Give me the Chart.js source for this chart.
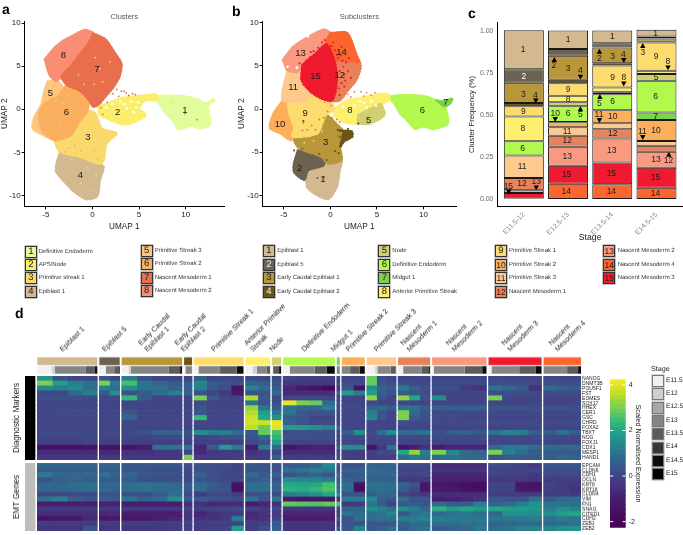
<!DOCTYPE html>
<html><head><meta charset="utf-8">
<script src="https://cdn.jsdelivr.net/npm/chart.js@4"></script>
<style>
html,body{margin:0;padding:0;background:#fff;font-family:"Liberation Sans",Arial,sans-serif;text-rendering:geometricPrecision}
#page{position:relative;width:683px;height:535px;overflow:hidden}
canvas{position:absolute}
.t{position:absolute;white-space:nowrap;line-height:1;color:#222}
.sw{position:absolute;width:10px;height:10px;border:1px solid #333;box-shadow:0 0 0 .6px #999;font-size:9.5px;line-height:10px;text-align:center;color:#222}
</style></head><body><div id="page"></div>
<script>
/* ---------- palettes ---------- */
const clusterColors={1:'#E2FC9C',2:'#FBEE6B',3:'#FBD86C',4:'#D2B990',5:'#FDC67F',6:'#FAAF5F',7:'#E96F4C',8:'#F98E74'};
const subColors={1:'#D2B990',2:'#6B6250',3:'#B8963A',4:'#6B5517',5:'#D1CF72',6:'#B2F94E',7:'#79D44A',8:'#FEF06E',9:'#FEDB6E',10:'#FCAE5A',11:'#FEC98C',12:'#E8825A',13:'#F99A80',14:'#FA6530',15:'#F01A30'};
const stageColors=['#F0F0F0','#CFCFCF','#A8A8A8','#858585','#5C5C5C','#363636','#0C0C0C','#000000'];
const stageNames=['E11.5','E12','E12.5','E13','E13.5','E14','E14.5','E15'];

/* ---------- panel a: cluster outlines in UMAP coordinates ---------- */
const a8=[[-5.1,5.8],[-4.1,7.1],[-3.2,7.9],[-2,8.6],[-.8,9.2],[.1,8.8],[-.4,7.7],[-1.4,6.3],[-2.4,4.9],[-3.3,3.8],[-3.9,3.3],[-4.6,4]];
const a7=[[.1,8.8],[1.4,8.1],[2.3,6.7],[3.1,5.3],[2.9,3.8],[2.2,2.5],[1.4,1.5],[.7,.6],[.1,.3],[-.4,1.1],[-1.4,2.2],[-2.7,2.8],[-3.3,3.8],[-2.4,4.9],[-1.4,6.3],[-.4,7.7]];
const a5=[[-4.8,3.2],[-3.9,3.3],[-3.2,2.6],[-3.7,1.5],[-5.1,.7],[-5.7,-.5],[-5.4,-2.4],[-4,-3.6],[-4.9,-3.2],[-6.4,-2.2],[-6.2,-.9],[-5.5,.5],[-5.1,2.3]];
const a6=[[-5.1,.7],[-3.7,1.5],[-2.7,2.8],[-1.4,2.2],[-.4,1.1],[-.6,-.3],[-1.4,-1.4],[-2.3,-3],[-3.2,-3.4],[-4,-3.6],[-5.4,-2.4],[-5.7,-.5]];
const a3=[[-.4,-.1],[.3,-.5],[1,-2.2],[2.1,-2.6],[2.6,-2.8],[1.5,-4],[1.2,-5.9],[.7,-6.3],[-1.4,-5.5],[-3.5,-4.9],[-4,-3.6],[-3.2,-3.4],[-2.3,-3],[-1.4,-1.4],[-.6,-.3]];
const a4=[[-3.5,-5.1],[-1.4,-5.5],[.7,-6.3],[1.2,-6.7],[.8,-8.2],[.5,-10.1],[-.7,-10.4],[-2,-9.5],[-3,-8.4],[-3.9,-7.2],[-3.8,-6.1]];
const a2=[[.7,.3],[2.1,.9],[3.1,1.3],[5.5,1.6],[6.9,1.7],[6.9,1.1],[5.6,1],[5,.1],[5.7,-.7],[4.2,-1.6],[3.1,-1.7],[1.4,-1],[.7,-.5]];
const a1=[[6.4,1.4],[7.7,1.6],[9.8,1.5],[11.2,1.2],[12.1,.7],[13,1.2],[13.05,1],[12.4,.4],[12.6,-1.8],[11.5,-2.2],[10.7,-1.9],[9.2,-2.3],[8.7,-1.4],[7.9,-.5],[7.1,.7]];
const aLabels=[['8',-3.1,6.2],['7',.5,4.6],['5',-4.5,1.8],['6',-2.8,-.4],['2',2.7,-.3],['1',9.9,-.1],['3',-.5,-3.3],['4',-1.3,-7.7]];
/* stray cells */
const aStray7=[[2.6,2.3],[3.1,2.1],[3.6,1.9],[4.3,1.8],[3.9,1.6],[2.2,1.8],[2.8,1.5],[1.6,.8],[1.1,-.6],[3.4,2.1],[4.6,1.7],[.9,.2],[9.9,-.5],[11.2,-1.2]];
const aStray5=[[.2,2.9],[1.1,3.2],[-.9,2.9],[.8,4.7],[1.9,5.5],[-1.5,4],[.3,6],[-4.5,-.5],[-3.9,.9],[-4.8,-1.4],[-3.5,-1.9],[-3.2,.7],[-5,.2],[-2.6,1.6],[-4.2,-2.6]];
const aStray6=[[-4.7,2.3],[-5.5,-1.5],[-5.9,-1.9],[-5.2,-.9],[-4.1,2.7],[-4.4,1.2]];
const aStray3=[[-.5,-6.8],[-1.2,-8.6],[-.2,-9.4],[.4,-7.5],[-2.2,-5.8],[-1.8,-5.2],[0,-6.2],[8.6,.8]];
const aStray4=[[-2.5,-4.5],[-1.9,-4.2],[-1.2,-4.8],[.6,-5.8],[-2.9,-4.9],[.2,-4.7]];
const aHoles=[[3.4,.6],[4.2,.9],[4.7,.2],[3.7,.1],[4.4,-.3],[2.1,.6],[1.5,.2],[3,.9],[4.9,.8]];

/* ---------- panel b: subcluster outlines in UMAP coordinates ---------- */
const b13=[[-5.1,5.7],[-4,7.2],[-2.3,8.4],[-.7,9.2],[0,8.8],[-.2,7.6],[-1.6,6.4],[-3,5.1],[-3.5,4.3],[-4.6,4.5]];
const b14=[[0,8.8],[1.8,8.8],[2.8,6.3],[3.2,5.1],[2.3,4.9],[.5,5.3],[-.2,6.4],[-.5,7.6]];
const b12=[[.5,5.3],[3.2,5.1],[2.8,3.4],[1.9,2.2],[1,1],[.2,1],[.5,3.3]];
const b15=[[-3,5.1],[-1.6,6.4],[-.4,7.5],[.5,5.3],[.7,3.3],[.2,1],[-.9,1.2],[-2.1,2],[-3.1,3.4]];
const b11=[[-4.6,4.5],[-3.5,4.3],[-3.1,3.4],[-2.1,2],[-2.6,1],[-5.1,1],[-5.1,2.2]];
const b10=[[-5.1,1],[-4.6,1],[-4.4,-.5],[-3.9,-2.2],[-4.2,-3.6],[-5.4,-2.8],[-6.5,-2.2],[-6.1,-.5]];
const b9=[[-4.6,1],[-2.6,1],[-2.1,2],[-.9,1.2],[.2,.6],[.35,-.1],[-.5,-.7],[-1.4,-2.8],[-4.1,-3.2],[-3.9,-2.2],[-4.4,-.5]];
const b3=[[-4.1,-3.2],[-1.4,-2.8],[-.5,-.7],[.9,-2],[1.4,-2.6],[1.05,-4.4],[1.2,-5.9],[-.2,-6.3],[-1,-5.5],[-2.6,-4.9],[-3.5,-4.4]];
const b4=[[1,-2.5],[2.3,-2.6],[2.35,-3.2],[1.4,-3.8],[1.05,-4.4],[1.4,-2.6]];
const b2=[[-3.5,-4.8],[-2.6,-4.9],[-1,-5.5],[-.7,-6.5],[-2.4,-7.1],[-2.8,-8.2],[-3.9,-7.3],[-3.9,-6.3]];
const b1=[[-.7,-6.3],[1.2,-5.9],[1,-7.1],[.7,-9],[-.2,-10.4],[-1.4,-10],[-2.5,-9],[-2.4,-7.1]];
const b8=[[.35,0],[1.9,1],[3.3,1.3],[5,1.7],[6.3,1.7],[6.3,1.1],[5.4,.5],[3.3,-.5],[3,-1.6],[1.8,-1.6],[.5,-.9]];
const b5=[[3,-.7],[4.8,.3],[5.4,.6],[5.8,-.7],[4.2,-1.7],[3,-1.6]];
const b6=[[6.2,1.4],[7.5,1.6],[10,1.5],[11.4,1],[12.3,.3],[12.6,-1.7],[11,-2.3],[9.99,-2],[9.1,-2.3],[8.4,-1.5],[7.5,-.5],[6.9,.6]];
const b7=[[11.4,1],[12.1,.9],[13.1,1.2],[12.9,.7],[12.3,.3]];
const bLabels=[['13',-3.2,6.4],['14',1.2,6.6],['15',-1.6,3.8],['12',1,3.9],['11',-4,2.5],['9',-2.7,-.5],['10',-5.4,-1.8],['8',2.1,-.2],['5',4.1,-1.3],['6',9.9,-.1],['7',12.4,.8],['3',-.5,-3.9],['2',-3.3,-6.9],['1',-.8,-8.1]];
const bStray15=[[1.1,6.2],[.5,6.8],[.1,7.3],[1.7,5.4],[1.9,4.4],[1.5,2.6],[-.6,8],[-1.3,7.1],[-2.2,6],[.8,5.9],[1.4,4.9],[2.2,3.6],[.9,2.4],[1,1.6],[-2.6,5.6],[.3,7.7],[1.2,7.2],[1.6,3.3],[-1.8,6.7],[2,5.9],[.7,6.3],[1.3,5.6],[1,4.4],[1.2,3],[.6,2],[-.9,7.7],[-2.1,6.6],[-3.3,5.3],[-2.9,2.8],[.4,4.6],[1.5,4],[.2,6.2]];
const bStray12=[[1.9,1.7],[2.6,2],[3.3,2],[3.9,1.9],[4.4,1.6],[4.8,1.9],[2.2,1.4],[3.6,1.5],[-.6,.8],[.1,.4]];
const bStray2=[[-3.9,-4.8],[-3.5,-5.5],[-1.5,-5.8],[-1,-6.3],[-2.2,-6],[-2.8,-5.3],[-.4,-5.9],[-1.8,-5.4],[-1.4,-8],[-.7,-7.9],[-3,-4.6],[-1.2,-5.2]];
const bStray3=[[-1.2,-1.2],[-.8,-1.9],[-2.5,-2.4],[-3,-2.5],[-2.9,-1.6],[-1.6,-2.4],[.2,-1],[-.3,-.3],[1,-1.5],[.7,-1.2],[-2,-1.9],[-.7,-1]];
const bStray4=[[1,-3.2],[1.3,-4],[.8,-2.4],[.5,-4.9],[1.9,-2.3],[.9,-5.1],[-2.9,-1.4],[3,-1.7]];
const bStray9=[[-1.8,-3.7],[-2.8,-3.9],[-.9,-2.6]];
const bStray13=[[-3.9,4.1],[-3.3,3.9],[-3.4,2.9],[-3.8,3.4]];
const bHoles=[[3.6,.7],[4.4,.9],[4.9,.4],[2.6,.4],[3.9,.2],[-3.6,4.8],[-4.6,4.9],[-2.4,8.4],[3.2,.9],[1.4,.3]];

/* ---------- panel c: stacked frequencies ---------- */
const stageTicks=['E11.5-12','E12.5-13','E13.5-14','E14.5-15'];
const freq1=[.232,.111,.075,.040],freq2=[.081,.040,.026,.012],freq3=[.119,.143,.093,.020],freq4=[.020,.020,.014,.004];
const freq9=[.061,.075,.131,.168],freq8=[.147,.038,.028,.020],freq5=[0,.024,.012,.040],freq6=[.085,.093,.095,.188];
const freq7=[0,.002,0,.044],freq10=[0,.030,.077,.125],freq11=[.133,.050,.036,.028],freq12=[.073,.065,.055,.036];
const freq13=[.016,.113,.143,.095],freq15=[.034,.107,.129,.119],freq14=[.002,.091,.087,.067];
const cSeries=[[14,freq14],[15,freq15],[13,freq13],[12,freq12],[11,freq11],[10,freq10],[7,freq7],[6,freq6],[5,freq5],[8,freq8],[9,freq9],[4,freq4],[3,freq3],[2,freq2],[1,freq1]];
const cLabels=[['1',.985,.885],['2',1,.727,'#fff'],['3',.99,.62],['4',1.26,.616],['9',.99,.521],['8',.98,.418],['6',.97,.301],['11',.96,.19],['12',.96,.089],['13',1.28,.101],['15',.65,.073],
['1',2,.945],['2',1.68,.79],['3',2,.776],['4',2.28,.762],['9',2,.651],['8',2,.588],['10',1.71,.509],['6',2,.507],['5',2.28,.499],['11',1.98,.402],['12',1.98,.345],['13',1.98,.253],['15',1.97,.143],['14',1.96,.042],
['1',3,.962],['2',2.71,.836],['3',3.01,.848],['4',3.25,.859],['9',3.01,.723],['8',3.26,.723],['5',2.71,.568],['6',3.01,.578],['11',2.7,.503],['10',3.01,.487],['12',3.01,.386],['13',2.99,.287],['15',2.98,.152],['14',2.98,.042],
['1',3.98,.98],['3',3.69,.871],['9',3.99,.848],['8',4.26,.816],['5',3.99,.723],['6',3.98,.61],['7',3.98,.491],['11',3.68,.402],['10',3.99,.404],['12',4.27,.226],['13',3.99,.234],['15',3.98,.127],['14',3.98,.034]];
const cUp=[[1.69,.828],[2.28,.535],[2.71,.877],[2.72,.608],[3.69,.911],[4.28,.265]];
const cDown=[[1.27,.584],[1.28,.067],[.66,.042],[2.28,.725],[1.71,.473],[3.26,.824],[3.26,.685],[2.71,.467],[4.26,.78],[3.69,.366]];

/* ---------- panel d: heatmap ---------- */
const clusterNames=[['Epiblast 1'],['Epiblast 5'],['Early Caudal','Epiblast 1'],['Early Caudal','Epiblast 2'],['Primitive Streak 1'],['Anterior Primitive','Streak'],['Node'],['Definitive Endoderm'],['Midgut 1'],['Primitive Streak 2'],['Primitive Streak 3'],['Nascent','Mesoderm 1'],['Nascent','Mesoderm 2'],['Nascent','Mesoderm 3'],['Nascent','Mesoderm 4']];
const clusterSub=[1,2,3,4,9,8,5,6,7,10,11,12,13,15,14];
const binsPerCluster=[4,2,4,1,4,2,1,4,1,2,3,3,4,4,3];
/* cells per stage within each cluster: [stage index, cells] */
const stageRuns=[[[0,14.3],[1,3.3],[3,31],[4,9],[6,2.4]],[[0,6.7],[3,9],[4,4],[6,.7]],[[0,6.7],[1,2.3],[3,37.7],[4,11.7],[6,2]],[[0,1.3],[3,6],[4,.7]],[[0,4.3],[3,21.7],[4,16.7],[6,6.7]],[[0,7],[1,4.3],[3,10],[4,3.3]],[[0,1],[4,6],[6,2]],[[0,6.7],[3,25],[4,11.7],[6,8.3]],[[3,3]],[[3,8.3],[4,9.7],[6,5]],[[0,8.3],[1,2.3],[3,13.3],[4,5],[6,.4]],[[0,5],[3,18.7],[4,7.3],[6,1]],[[0,1.7],[3,30.7],[4,17.7],[6,4.3]],[[0,3],[3,27.7],[4,16.7],[6,5.7]],[[3,23.5],[4,11],[6,3]]];
const diagGenes=['NANOG','DNMT3B','POU5F1','FST','EOMES','SOX17','HHEX','CER1','GSC','CHRD','FOXA2','TBXT','NOG','FOXJ1','CDX1','MESP1','HAND1'];
const emtGenes=['EPCAM','CLDN6','CDH1','OCLN','KRT8','KRT18','CLDN4','VIM','FN1','SNAI1','CITED1','CDH2','ZEB1','ZEB2'];
const NANOG=[1.6,.3,0,0, .4,0, 1.2,.2,0,0, 0, .5,0,0,0, .1,0, 0, 0,-.1,-.1,-.1, 0, 0,0, 2.8,.2,0, 0,0,0, 0,0,0,0, .1,0,0,0, .1,0,0];
const DNMT3B=[3,1.8,1.2,.9, 3,1.2, 2.5,1,.7,.5, .5, 1.3,.5,.3,.2, .6,.5, .3, -.3,-.3,-.3,-.3, 0, .2,.1, 2.8,.4,.2, .2,.1,.1, .1,.1,.1,.1, .2,.2,.2,.1, .2,.2,.2];
const POU5F1=[1.4,1.2,1.4,.9, 1.2,.9, 1.5,1,.9,.6, .5, 1.2,.4,.2,-1.5, 1.3,.8, .5, -.8,-1.2,-1.5,-1.8, -.3, .4,-1.5, 1.5,.6,.5, 1.1,.6,.3, .3,.2,-.2,-.5, 1,.7,.5,-.5, .8,.6,.5];
const FST=[.1,.1,.7,1.2, .5,1.5, .3,.5,.8,1.2, .6, .3,0,-.3,-1.2, .3,.3, .8, -.6,-.6,-.6,-.6, .5, 1.8,1.2, 1.8,.5,.3, .5,.4,.2, 0,0,0,0, .2,.2,.2,.1, .2,.2,.2];
const EOMES=[.2,.2,.2,.1, .1,.1, 2.3,.5,0,0, 0, 3,.5,0,0, 3.5,.5, .1, 0,0,0,0, 0, 0,0, 3.2,.3,0, 3.2,2,.3, 1.5,0,0,0, 3,.1,0,0, 0,0,0];
const SOX17=[0,0,0,0, 0,0, 0,0,0,0, 0, .1,0,0,0, 1,.3, .2, 4,3,2.8,.8, .2, 0,0, 0,0,0, .1,0,0, 0,0,0,0, 0,0,0,0, 0,0,0];
const HHEX=[.1,.1,.1,.1, 0,0, .1,0,0,0, 0, .3,0,0,0, 3.2,1, .5, 1,.7,.7,1.2, .1, .1,.1, .6,.8,.5, 1,.9,.5, .6,.6,.6,.6, .3,.3,.3,.2, .3,.3,.2];
const CER1=[0,.1,.1,.1, 0,0, .4,0,0,0, 0, .4,0,0,0, 3.5,1.8, 1, 1,.4,.3,.3, 0, 0,0, 1.2,.3,0, 3,.8,.3, .1,.1,.1,.1, .1,.1,.1,.1, .1,.1,.1];
const GSC=[0,0,.1,.1, 0,0, .6,0,0,0, 0, 2.3,0,0,0, 3.7,2, 1.5, .5,.3,0,0, 0, 0,0, 1.3,.3,0, 3,.5,.2, .1,.1,0,0, 0,0,0,0, 0,0,0];
const CHRD=[0,0,0,0, 0,0, 0,0,0,0, 0, .1,0,0,0, 3.8,3.7, 4, .6,.3,.1,.1, 0, 0,0, 0,0,0, .2,.1,.1, .1,.1,.1,.1, .1,.1,.1,.1, .1,.1,.1];
const FOXA2=[0,0,0,0, 0,0, 0,0,0,0, 0, 0,0,0,0, 3.6,2.8, 3.9, 1.8,1.7,1.5,1.3, .8, 0,0, 0,0,0, 0,0,0, 0,0,0,0, 0,0,0,0, 0,0,0];
const TBXT=[.1,.1,.1,.1, .1,.1, .1,.3,.6,.6, .3, 1.5,1.2,1.2,.8, .5,2.8, 2.5, .2,.2,.2,.2, 0, .5,1.5, .1,.9,1.5, .8,.8,1, .2,.5,.6,.4, 1,1.3,1.2,.5, .5,.9,.5];
const NOG=[0,0,0,.1, 0,0, 0,0,.1,.1, .1, 0,.1,.2,.2, .3,.8, 2.2, .3,.3,.2,.2, 0, .1,.1, 0,.1,.1, .1,.1,.1, .1,.1,.1,.1, .1,.1,.1,.1, .1,.1,.1];
const FOXJ1=[-.1,-.1,-.1,0, -.1,-.1, -.1,-.1,-.1,-.1, 0, -.1,-.1,-.1,-.1, .1,.3, 1.8, 0,0,0,0, 0, 0,0, 0,0,0, 0,0,0, 0,0,0,0, 0,0,0,0, 0,0,0];
const CDX1=[-1.5,-1.5,-1.5,-1.4, -1.4,-1.4, -1.3,-1,1,1, 1, -.8,.5,1.8,1.2, -1,1.2, .8, -1.3,-1,-.9,-.9, .5, 1.5,1.5, -1.4,-.3,1, -1.3,-1,-.5, -1,-.8,-.8,-.8, .8,1.1,1.1,.8, .8,.8,.8];
const MESP1=[-.6,-.6,-.6,-.6, -.7,-.7, -.5,-.5,-.4,-.3, 0, -.6,-.3,-.2,-.2, -.5,-.2, 0, -.6,-.6,-.6,-.6, 0, -.1,-.2, -.1,.1,.1, 2,3.2,1.2, 3,1.4,.8,.6, 3,1.2,.8,.5, .5,.5,.5];
const HAND1=[-.3,-.3,-.3,-.3, -.3,-.3, -.3,-.3,-.3,-.3, 3, -.2,-.2,-.2,-.1, -.2,-.2, .5, -.2,-.2,-.2,-.2, .2, -.1,-.1, -.1,-.1,-.1, .8,1.2,1, .8,1,.8,.8, .3,.5,.5,.4, .5,.7,.6];
const EPCAM=[.7,.7,.7,.7, .6,.6, .4,.4,.4,.4, .2, .3,.2,.2,0, .5,.3, .2, .5,.5,.7,1.4, .3, .3,.3, .7,.6,.6, .1,.1,.1, -.6,-.6,-.6,-.6, .2,.1,0,-.3, .3,.3,.3];
const CLDN6=[.5,.5,.5,.5, .5,.5, .4,.3,.2,.2, .1, .2,.2,.1,0, .3,.3, .2, .9,1,1.2,1.1, .2, .6,.6, .8,.7,.6, 0,0,0, -.4,-.4,-.4,-.4, 0,0,0,0, .2,.2,.2];
const CDH1=[1.1,.7,.7,.7, .9,.6, .7,.4,.3,.3, .1, .6,.2,.1,.1, .8,.5, .6, .2,.5,.7,.3, .7, .4,.5, .7,.7,.7, 0,0,0, -.8,-.8,-.8,-.8, 0,-.1,-.1,-.3, .1,.1,.1];
const OCLN=[.3,.6,.7,.5, .5,.5, .5,.2,.2,.2, .1, .3,.2,.1,.1, .5,.6, .3, 1.5,1.4,1.3,1.2, .3, .6,.5, .6,.6,.6, -.3,-.3,-.3, -.9,-.9,-.9,-.9, -.3,-.3,-.3,-.4, -.2,-.2,-.2];
const KRT8=[.7,.7,.9,.9, .7,.7, .9,1,.9,.8, .5, .8,.5,.3,-1.5, .9,.9, .6, 2,2,2,2.5, .8, .9,-1.5, 1,.9,.9, .7,.3,-1.3, -1.2,-1.3,-1.6,-1.7, 0,0,-1.3,-1.4, 0,-.2,-.3];
const KRT18=[.7,.7,.8,.9, .8,.7, .9,1,.9,.8, .5, .8,.5,.3,-1.6, .9,.9, .6, 2.2,2.1,2.3,2.6, .8, .9,-1.6, .9,.9,.8, .5,.1,-1.2, -1.1,-1.2,-1.4,-1.6, 0,-.1,-1.2,-1.3, -.1,-.2,-.5];
const CLDN4=[.1,.1,.1,.1, .3,.3, .2,.2,.5,.9, .1, -.2,.1,.1,-.2, .2,.3, .1, 1.2,1.3,1.5,2, 1.5, .3,.3, .5,.8,.7, 0,-.2,-.3, -.6,-.6,-.6,-.6, -.2,-.2,-.2,-.2, -.2,-.2,-.2];
const VIM=[1,1.3,.5,.3, .5,.4, 1,.6,.8,1.5, .5, .5,.3,.2,.1, 1,.2, 1, -1.2,-1.4,-1.4,-1.5, -.5, 1.2,1.1, 1.4,.5,.4, .9,.3,.3, -1,-.9,-.8,-.5, .4,.3,.3,1, .5,.8,.8];
const FN1=[-1,-1,-1,-1, -.9,-.9, -1,-1,-1,-1, -.5, -.5,-.8,-.7,-.6, -1,-.8, -.5, 2.8,2.7,2.6,2.8, 2.5, -.3,-.2, 1,.5,-.1, .4,.5,.3, .8,.5,.5,1.2, .6,.8,1.2,1.6, 1,1,.9];
const SNAI1=[-.3,-.3,-.3,-.3, -.3,-.3, -.3,-.3,-.3,-.3, 0, -.1,0,0,.1, 0,-.3, .1, -.4,-.4,-.4,-.4, 0, .6,.7, 1.5,1.2,.9, 1.5,1.2,.8, 2.2,1.8,2,1.7, 2,1.8,1.8,1.7, 1.2,1.5,1.3];
const CITED1=[-.6,-.6,-.6,-.6, -.7,-.7, -1,-1,-1,-1, -.3, -.8,-.5,-.3,-.2, -.7,-.4, -.2, -.8,-.8,-.8,-.8, -.3, 1,.8, .9,1,1.3, .4,.9,1.1, .8,1,1.1,.9, .7,1.5,1.5,1.5, 1.5,1.8,2];
const CDH2=[-1.4,-1.3,-1.2,-.7, -1.3,-1.1, -1.2,-1.1,-1,-.8, -.3, -.5,-.5,-.3,1.2, -.6,-.5, 0, -1,-1,-1,-1, .3, .3,.9, .9,.9,1, 1.2,1.2,1.3, 1.2,1.1,1.1,1.1, 1.1,1.1,1.1,1.2, .9,1.1,1];
const ZEB1=[-.2,-.2,-.2,-.2, -.2,-.2, -.2,-.2,-.2,-.2, 0, -.2,-.1,-.1,0, -.2,-.1, .5, -.4,-.4,-.4,-.4, -.2, .3,.3, .3,.4,.4, .6,.8,.8, .9,.9,1,1, .6,.7,.8,.7, .7,.8,.9];
const ZEB2=[-.4,-.4,-.4,.3, -.4,-.3, -.4,-.4,-.3,-.2, 0, -.2,-.1,0,1.8, -.2,.2, .6, -.5,-.5,-.5,-.4, .3, .4,1.3, .4,.6,.9, .5,.8,1, .5,.6,.7,1.1, .8,1,1.2,1.3, 1.3,1.5,1.6];
const diagRows=[NANOG,DNMT3B,POU5F1,FST,EOMES,SOX17,HHEX,CER1,GSC,CHRD,FOXA2,TBXT,NOG,FOXJ1,CDX1,MESP1,HAND1];
const emtRows=[EPCAM,CLDN6,CDH1,OCLN,KRT8,KRT18,CLDN4,VIM,FN1,SNAI1,CITED1,CDH2,ZEB1,ZEB2];

/* ---------- legends ---------- */
const legendA=[[1,'Definitive Endoderm'],[2,'APS/Node'],[3,'Primitive streak 1'],[4,'Epiblast 1'],[5,'Primitive Streak 3'],[6,'Primitive Streak 2'],[7,'Nascent Mesoderm 1'],[8,'Nascent Mesoderm 2']];
const legendB=[[1,'Epiblast 1'],[2,'Epiblast 5'],[3,'Early Caudal Epiblast 1'],[4,'Early Caudal Epiblast 2'],[5,'Node'],[6,'Definitive Endoderm'],[7,'Midgut 1'],[8,'Anterior Primitive Streak'],[9,'Primitive Streak 1'],[10,'Primitive Streak 2'],[11,'Primitive Streak 3'],[12,'Nascent Mesoderm 1'],[13,'Nascent Mesoderm 2'],[14,'Nascent Mesoderm 4'],[15,'Nascent Mesoderm 3']];

/* ---------- helpers ---------- */
const page=document.getElementById('page');
Chart.defaults.font.family='"Liberation Sans",Arial,sans-serif';
Chart.defaults.animation=false;
Chart.defaults.plugins.legend.display=false;
Chart.defaults.plugins.tooltip.enabled=false;
Chart.defaults.color='#222';
function mk(left,top,w,h,cfg){
  const c=document.createElement('canvas');c.width=w;c.height=h;
  c.style.left=left+'px';c.style.top=top+'px';c.style.width=w+'px';c.style.height=h+'px';
  page.appendChild(c);
  cfg.options=Object.assign({responsive:false,maintainAspectRatio:false},cfg.options);
  return new Chart(c,cfg);
}
function text(s,x,y,size,o={}){
  const d=document.createElement('div');d.className='t';d.textContent=s;
  d.style.left=x+'px';d.style.top=(y-size/2)+'px';d.style.fontSize=size+'px';
  if(o.bold)d.style.fontWeight='bold';if(o.color)d.style.color=o.color;
  page.appendChild(d);
}
function swatch(num,color,x,yc,lx,label,white){
  const d=document.createElement('div');d.className='sw';d.textContent=num;
  d.style.left=x+'px';d.style.top=(yc-6)+'px';d.style.background=color;
  if(num>9)d.style.fontSize='8.5px';
  if(white)d.style.color='#eee';
  page.appendChild(d);
  text(label,lx,yc,6,{color:'#333'});
}
const pts=a=>a.map(p=>({x:p[0],y:p[1]}));
const viridis=['#440154','#482475','#414487','#355f8d','#2a788e','#21918c','#22a884','#44bf70','#7ad151','#bddf26','#fde725'];
const vStops=[[-2.27,0],[-1,.08],[0,.2],[1,.38],[2,.6],[3,.8],[4,.97],[4.25,1]];
function hex(h){return [1,3,5].map(i=>parseInt(h.substr(i,2),16))}
function heatColor(v){
  let t=1;
  if(v<=vStops[0][0])t=0;
  for(let i=0;i<vStops.length-1;i++){const a=vStops[i],b=vStops[i+1];if(v>=a[0]&&v<=b[0]){t=a[1]+(v-a[0])/(b[0]-a[0])*(b[1]-a[1]);break}}
  const f=t*10,k=Math.min(9,Math.floor(f)),u=f-k,A=hex(viridis[k]),B=hex(viridis[k+1]);
  return 'rgb('+A.map((c,i)=>Math.round(c+(B[i]-c)*u)).join(',')+')';
}

/* ---------- UMAP panels ---------- */
const numLabels={id:'numLabels',afterDatasetsDraw(ch,a,o){
  const c=ch.ctx;c.save();c.font='9.5px "Liberation Sans",Arial';c.textAlign='center';c.textBaseline='middle';c.fillStyle='#1a1a1a';
  o.items.forEach(l=>c.fillText(l[0],ch.scales.x.getPixelForValue(l[1]),ch.scales.y.getPixelForValue(l[2])));c.restore();
}};
/* a cluster: filled outline with a solid seam-closing stroke, then a dotted grainy rim */
function poly(a,col){const d=pts([...a,a[0]]);return [
  {type:'scatter',data:d,showLine:true,fill:'shape',backgroundColor:col,borderColor:col,borderWidth:1.2,pointRadius:0,tension:.25},
  {type:'scatter',data:d,showLine:true,fill:false,borderColor:col,borderWidth:2.6,borderDash:[.5,2.4],borderCapStyle:'round',pointRadius:0,tension:.25}]}
function dots(a,col,r){return [{type:'scatter',data:pts(a),showLine:false,pointRadius:r||.9,pointBorderWidth:0,pointBackgroundColor:col,backgroundColor:col}]}
function umap(left,w,yw,titleText,xr,yr,groups,labels,titlePad){
  const sets=groups.flat();
  sets.forEach((s,i)=>{s.order=sets.length-i});
  const axisBase={grid:{drawOnChartArea:false,drawTicks:true,tickLength:3,color:'#000'},border:{color:'#000',width:1}};
  mk(left,0,w,235,{type:'scatter',data:{datasets:sets},plugins:[numLabels],options:{
    layout:{padding:0},
    plugins:{numLabels:{items:labels},title:{display:true,text:titleText,fullSize:false,color:'#555',font:{size:7.5,weight:'normal'},padding:{top:12,bottom:0}}},
    scales:{
      x:{type:'linear',min:xr[0],max:xr[1],...axisBase,afterBuildTicks:s=>{s.ticks=[-5,0,5,10].map(v=>({value:v}))},afterFit:s=>{s.height=28.7;s.paddingLeft=0;s.paddingRight=0},
         ticks:{font:{size:8},color:'#222',padding:1,maxRotation:0,callback:v=>String(v)},title:{display:true,text:'UMAP 1',font:{size:8.2},color:'#222',padding:{top:0,bottom:3.6}}},
      y:{type:'linear',min:yr[0],max:yr[1],...axisBase,afterBuildTicks:s=>{s.ticks=[-10,-5,0,5,10].map(v=>({value:v}))},afterFit:s=>{s.width=yw},
         ticks:{font:{size:8},color:'#222',padding:1,callback:v=>String(v)},title:{display:true,text:'UMAP 2',font:{size:8.2},color:'#222',padding:{top:titlePad,bottom:0}}}
    }}});
}
const C=clusterColors,S=subColors;
umap(0,228,24.7,'Clusters',[-7.26,14.1],[-11.25,10.24],[
  poly(a1,C[1]),poly(a2,C[2]),poly(a4,C[4]),poly(a3,C[3]),poly(a5,C[5]),poly(a6,C[6]),poly(a8,C[8]),poly(a7,C[7]),
  dots(aHoles,'#fff',1.3),dots(aStray7,C[7]),dots(aStray5,C[5]),dots(aStray6,C[6]),dots(aStray3,C[3]),dots(aStray4,C[4])
],aLabels,0);
umap(232,228,30.7,'Subclusters',[-7.27,13.5],[-11.27,10.2],[
  poly(b6,S[6]),poly(b7,S[7]),poly(b8,S[8]),poly(b5,S[5]),poly(b1,S[1]),poly(b2,S[2]),poly(b3,S[3]),poly(b4,S[4]),poly(b10,S[10]),poly(b9,S[9]),poly(b11,S[11]),poly(b13,S[13]),poly(b14,S[14]),poly(b12,S[12]),poly(b15,S[15]),
  dots(bHoles,'#fff',1.3),dots(bStray15,S[15],1.1),dots(bStray12,'#EF8060'),dots(bStray13,S[11]),dots(bStray2,S[2],1.1),dots(bStray3,S[3],1),dots(bStray4,S[4],1.1),dots(bStray9,S[9])
],bLabels,5);

/* ---------- panel c ---------- */
const barText={id:'barText',afterDatasetsDraw(ch){
  const c=ch.ctx,X=ch.scales.x,Y=ch.scales.y;c.save();c.font='8.5px "Liberation Sans",Arial';c.textAlign='center';c.textBaseline='middle';
  cLabels.forEach(l=>{c.fillStyle=l[3]||'#1c1c1c';c.fillText(l[0],X.getPixelForValue(l[1]),Y.getPixelForValue(l[2]))});
  c.fillStyle='#000';
  const tri=(p,dir)=>{const x=X.getPixelForValue(p[0]),y=Y.getPixelForValue(p[1]);c.beginPath();c.moveTo(x-2.7,y-dir*2.3);c.lineTo(x+2.7,y-dir*2.3);c.lineTo(x,y+dir*2.6);c.closePath();c.fill()};
  cUp.forEach(p=>tri(p,-1));cDown.forEach(p=>tri(p,1));c.restore();
}};
mk(462,0,221,245,{type:'bar',plugins:[barText],
 data:{datasets:cSeries.map(([n,v])=>({label:String(n),data:v.map((y,i)=>({x:i+1,y})),backgroundColor:S[n],borderColor:'#1a1a1a',borderWidth:1,barPercentage:.905,categoryPercentage:1,borderSkipped:false}))},
 options:{layout:{padding:{top:22.3,right:0}},scales:{
   x:{type:'linear',offset:false,stacked:true,min:.4,max:4.6,grid:{display:false,drawTicks:false},border:{color:'#000',width:1},afterBuildTicks:s=>{s.ticks=[1,2,3,4].map(v=>({value:v}))},afterFit:s=>{s.height=38.3;s.paddingLeft=0;s.paddingRight=0},
      ticks:{minRotation:45,maxRotation:45,autoSkip:false,font:{size:7},color:'#888',padding:4,callback:v=>stageTicks[v-1]},title:{display:true,text:'Stage',font:{size:8.7},color:'#222',padding:{top:0,bottom:2.1}}},
   y:{stacked:true,min:-.046,max:1.05,grid:{display:false,drawTicks:false},border:{color:'#000',width:1},afterBuildTicks:s=>{s.ticks=[0,.25,.5,.75,1].map(v=>({value:v}))},afterFit:s=>{s.width=35.3},
      ticks:{font:{size:6.9},color:'#666',padding:4,callback:v=>v.toFixed(2)},title:{display:true,text:'Cluster Frequency (%)',font:{size:7.7},color:'#222',padding:{top:5.4,bottom:0}}}
 }}});

/* ---------- panel d ---------- */
const GAP=2,SIDE=12.3;
const clusterWidths=stageRuns.map(r=>r.reduce((s,p)=>s+p[1],0));
let cum=SIDE;
const clusterCenters=clusterWidths.map(w=>{const c=cum+w/2;cum+=w+GAP;return c});
const xMax=cum-GAP;
/* annotation strips */
const stripSets=[{data:[SIDE,SIDE],backgroundColor:'transparent'}];
clusterWidths.forEach((w,i)=>{
  stripSets.push({data:[w,null],backgroundColor:S[clusterSub[i]]});
  stripSets.push({data:[GAP,null],backgroundColor:'transparent'});
});
stageRuns.forEach(runs=>{
  runs.forEach(r=>stripSets.push({data:[null,r[1]],backgroundColor:stageColors[r[0]]}));
  stripSets.push({data:[null,GAP],backgroundColor:'transparent'});
});
mk(0,300,683,74.5,{type:'bar',data:{labels:['cluster','stage'],datasets:stripSets.map(d=>({...d,barPercentage:.89,categoryPercentage:1}))},
 options:{indexAxis:'y',layout:{padding:{left:25,right:683-25-xMax,bottom:.7}},scales:{
   x:{type:'linear',position:'top',stacked:true,min:0,max:xMax,grid:{display:false,drawTicks:false},border:{display:false},
      afterBuildTicks:s=>{s.ticks=clusterCenters.map(v=>({value:v}))},afterFit:s=>{s.height=56;s.paddingLeft=0;s.paddingRight=0},
      ticks:{minRotation:45,maxRotation:45,autoSkip:false,padding:3,font:{size:7.2},color:'#222',callback:v=>{const i=clusterCenters.findIndex(c=>Math.abs(c-v)<1e-6);const n=clusterNames[i]||[''];return n.length>1?n:n[0]}}},
   y:{stacked:true,display:false}
 }}});
/* heatmap blocks */
function heat(top,h,padTop,padBot,genes,rows,side,title,titleSize){
  const sets=[{data:genes.map(()=>10),backgroundColor:side},{data:genes.map(()=>SIDE-10),backgroundColor:'transparent'}];
  let bin=0;
  binsPerCluster.forEach((n,ci)=>{
    for(let k=0;k<n;k++,bin++){
      const b=bin;
      sets.push({data:genes.map(()=>clusterWidths[ci]/n),backgroundColor:rows.map(r=>heatColor(r[b]))});
    }
    sets.push({data:genes.map(()=>GAP),backgroundColor:'transparent'});
  });
  mk(0,top,605,h,{type:'bar',data:{labels:genes,datasets:sets.map(d=>({...d,barPercentage:1,categoryPercentage:1,borderWidth:0}))},
   options:{indexAxis:'y',layout:{padding:{top:padTop,bottom:padBot}},scales:{
    x:{type:'linear',stacked:true,min:0,max:xMax,display:false},
    y:{type:'category',labels:genes,position:'right',stacked:true,grid:{display:false,drawTicks:false},border:{display:false},afterFit:s=>{s.width=605-25-xMax},
       ticks:{autoSkip:false,font:{size:5},color:'#222',padding:1}},
    yT:{type:'category',axis:'y',labels:[''],position:'left',grid:{display:false,drawTicks:false},border:{display:false},ticks:{display:false},afterFit:s=>{s.width=25},
       title:{display:true,text:title,font:{size:titleSize},color:'#222',padding:{top:11.6,bottom:0}}}
   }}});
}
heat(372,92,3,3.15,diagGenes,diagRows,'#000000','Diagnostic Markers',8.2);
heat(459.3,75.7,3,1.7,emtGenes,emtRows,'#BEBEBE','EMT Genes',8.2);

/* colour bar */
const barLevels=[];for(let v=-2.27;v<4.25;v+=.2)barLevels.push(v);
const cbTicks={id:'cbTicks',afterDatasetsDraw(ch){
  const c=ch.ctx,a=ch.chartArea,Y=ch.scales.y;c.save();c.strokeStyle='#fff';c.lineWidth=1;
  [-2,0,2,4].forEach(v=>{const y=Y.getPixelForValue(v);c.beginPath();c.moveTo(a.left,y);c.lineTo(a.left+3.2,y);c.moveTo(a.right-3.2,y);c.lineTo(a.right,y);c.stroke()});c.restore();
}};
mk(605,372,40,163,{type:'bar',plugins:[cbTicks],data:{labels:[''],datasets:barLevels.map(v=>({data:[[v,v+.21]],backgroundColor:heatColor(v+.1),barPercentage:1,categoryPercentage:1,borderWidth:0}))},
 options:{layout:{padding:{left:5,top:3,bottom:2}},scales:{
  x:{stacked:true,display:false},
  y:{position:'right',min:-2.27,max:4.25,grid:{display:false,drawTicks:false},border:{display:false},afterBuildTicks:s=>{s.ticks=[-2,0,2,4].map(v=>({value:v}))},afterFit:s=>{s.width=19.3},
     ticks:{font:{size:7},color:'#222',padding:3,callback:v=>String(v)},title:{display:true,text:'Scaled Normalised Expression',font:{size:7.2},color:'#222',padding:{top:3,bottom:0}}}
 }}});

/* ---------- legends and letters as text ---------- */
const rowsA=[251.7,265,278.3,292];const rowsA2=[250.7,264,277.7,291.3];
legendA.forEach((l,i)=>{const second=i>=4,k=i%4;swatch(l[0],C[l[0]],second?140.7:25,second?rowsA2[k]:rowsA[k],second?154.7:38.7,l[1])});
const rowsB=[251.3,265,278,291.7];const colB=[[263,277.3],[378.3,392.3],[495,509],[603.3,617.7]];
legendB.forEach((l,i)=>{const col=Math.floor(i/4),k=i%4;swatch(l[0],S[l[0]],colB[col][0],rowsB[k],colB[col][1],l[1],l[0]===2||l[0]===4)});
text('a',2,9,14,{bold:true,color:'#000'});text('b',232,11,14,{bold:true,color:'#000'});text('c',468,13,14,{bold:true,color:'#000'});text('d',15,313,14,{bold:true,color:'#000'});
text('Stage',651,369,7.2,{color:'#222'});
stageNames.forEach((n,i)=>{
  const y=381+i*13.33;
  const d=document.createElement('div');d.className='sw';d.style.cssText='left:651.7px;top:'+(y-6)+'px;background:'+stageColors[i]+';border-color:#777;width:10px;height:10px;box-shadow:0 0 0 .5px #aaa';
  page.appendChild(d);
  text(n,666,y,6.6,{color:'#222'});
});
</script></body></html>
